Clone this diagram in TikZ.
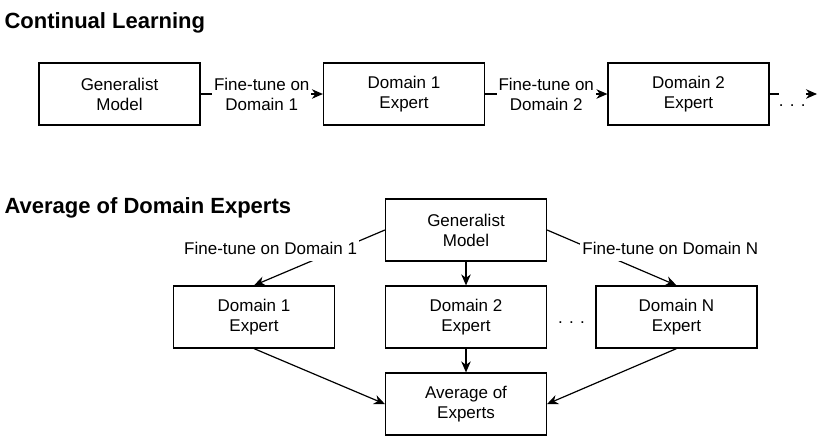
\documentclass[tikz,border=0pt]{standalone}
\usepackage{fontspec}
\setmainfont{Liberation Sans}
\usetikzlibrary{positioning, arrows.meta}

\begin{document}
\begin{tikzpicture}[x=1pt, y=-1pt, node distance={284.5pt}, line width=1.2pt,
  >={Stealth[length=11pt, width=9.5pt, inset=3.5pt]},
  box/.style = {draw, rectangle, minimum width=161pt, minimum height=62pt, align=center, font=\fontsize{17}{20}\selectfont},
  lbl/.style = {fill=white, inner sep=2pt, align=center, font=\fontsize{17}{20}\selectfont},
  tag/.style = {lbl, text height=14pt, text depth=4pt},
  head/.style = {anchor=base west, inner sep=0pt, font=\fontsize{22}{26}\selectfont\bfseries}]
  \useasboundingbox (0,0) rectangle (830,440);

  \node[head] (cl) at (4,28) {Continual Learning};
  \node[box] (gm) at (119.5,94) {Generalist\\Model};
  \node[box] (e1) [right of=gm] {Domain 1\\Expert};
  \node[box] (e2) [right of=e1] {Domain 2\\Expert};
  \coordinate (more) at (817,94);

  \draw[->] (gm) -- node[lbl] {Fine-tune on\\Domain 1} (e1);
  \draw[->] (e1) -- node[lbl] {Fine-tune on\\Domain 2} (e2);
  \draw[->] (e2) -- node[lbl, inner xsep=0pt, text height=14pt, text depth=0pt, anchor=base, yshift=-12pt, xshift=-1pt] {. . .} (more);

  \node[head] (ad) at (4,213) {Average of Domain Experts};
  \node[box] (gm2) at (466,230) {Generalist\\Model};
  \node[box] (d2) [below of=gm2, node distance=87pt] {Domain 2\\Expert};
  \node[box] (d1) [left of=d2, node distance=212pt] {Domain 1\\Expert};
  \node[box] (dn) [right of=d2, node distance=210.5pt] {Domain N\\Expert};
  \node[box] (avg) [below of=d2, node distance=87pt] {Average of\\Experts};
  \node[lbl, anchor=base] (gap) at (571.5,323) {. . .};

  \draw[->] (gm2.west) -- node[tag, pos=0.357, xshift=-67.5pt] {Fine-tune on Domain 1} (d1.north);
  \draw[->] (gm2.east) -- node[tag, pos=0.357, xshift=77pt] {Fine-tune on Domain N} (dn.north);
  \draw[->] (gm2) -- (d2);
  \draw[->] (d2) -- (avg);
  \draw[->] (d1.south) -- (avg.west);
  \draw[->] (dn.south) -- (avg.east);

\end{tikzpicture}
\end{document}
